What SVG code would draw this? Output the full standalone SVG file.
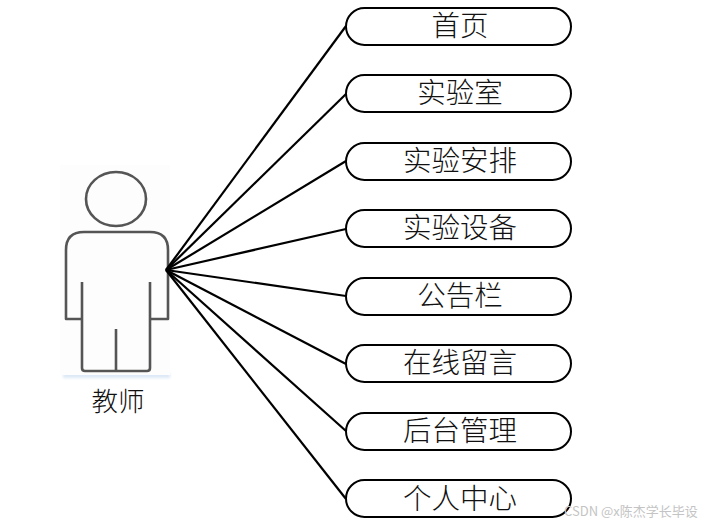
<svg xmlns="http://www.w3.org/2000/svg" width="709" height="525" viewBox="0 0 709 525">
<defs>
<filter id="soft" x="-10%" y="-10%" width="120%" height="120%"><feGaussianBlur stdDeviation="0.6"/></filter>
<filter id="shade" x="-10%" y="-50%" width="120%" height="200%"><feGaussianBlur stdDeviation="1.5"/></filter>
</defs>
<style>
.n{fill:#fff;stroke:#000;stroke-width:2}
.t{font-family:"Noto Sans CJK SC","Liberation Serif",serif;font-size:28.5px;font-weight:300;text-anchor:middle;fill:#111}
.c line{stroke:#000;stroke-width:2.2}
.a{fill:none;stroke:#555;stroke-width:2.6;stroke-linejoin:round}
.w{font-family:"Noto Sans CJK SC","Liberation Sans",sans-serif;font-size:13px;fill:#c4c4c4}
</style>
<rect width="709" height="525" fill="#fff"/>
<g id="actor">
<rect x="63" y="373" width="107" height="5" fill="#dbe7f6" filter="url(#shade)"/>
<rect x="60" y="165" width="110" height="210" fill="#fdfdfe"/>
<g filter="url(#soft)">
<ellipse class="a" cx="116" cy="199" rx="30" ry="27"/>
<path class="a" d="M82 319H66V250Q66 232 84 232H150Q168 232 168 250V319H150"/>
<path class="a" d="M82 282V368Q82 371 85 371H147Q150 371 150 368V282"/>
<path class="a" d="M116 329V371"/>
</g>
<text class="t" x="118" y="411" style="font-size:26.5px">教师</text>
</g>
<g class="c" id="connectors">
<line x1="166" y1="270" x2="346" y2="26"/>
<line x1="166" y1="270" x2="346" y2="94"/>
<line x1="166" y1="270" x2="346" y2="161"/>
<line x1="166" y1="270" x2="346" y2="229"/>
<line x1="166" y1="270" x2="346" y2="296"/>
<line x1="166" y1="270" x2="346" y2="364"/>
<line x1="166" y1="270" x2="346" y2="431"/>
<line x1="166" y1="270" x2="346" y2="499"/>
</g>
<g id="n1"><rect class="n" x="346" y="8" width="225" height="37" rx="18.5"/><text class="t" x="460" y="36">首页</text></g>
<g id="n2"><rect class="n" x="346" y="75" width="225" height="37" rx="18.5"/><text class="t" x="460" y="103">实验室</text></g>
<g id="n3"><rect class="n" x="346" y="143" width="225" height="37" rx="18.5"/><text class="t" x="460" y="171">实验安排</text></g>
<g id="n4"><rect class="n" x="346" y="210" width="225" height="37" rx="18.5"/><text class="t" x="460" y="238">实验设备</text></g>
<g id="n5"><rect class="n" x="346" y="278" width="225" height="37" rx="18.5"/><text class="t" x="460" y="306">公告栏</text></g>
<g id="n6"><rect class="n" x="346" y="345" width="225" height="37" rx="18.5"/><text class="t" x="460" y="373">在线留言</text></g>
<g id="n7"><rect class="n" x="346" y="413" width="225" height="37" rx="18.5"/><text class="t" x="460" y="441">后台管理</text></g>
<g id="n8"><rect class="n" x="346" y="480" width="225" height="37" rx="18.5"/><text class="t" x="460" y="509">个人中心</text></g>
<text class="w" x="564" y="516">CSDN @x陈杰学长毕设</text>
</svg>
